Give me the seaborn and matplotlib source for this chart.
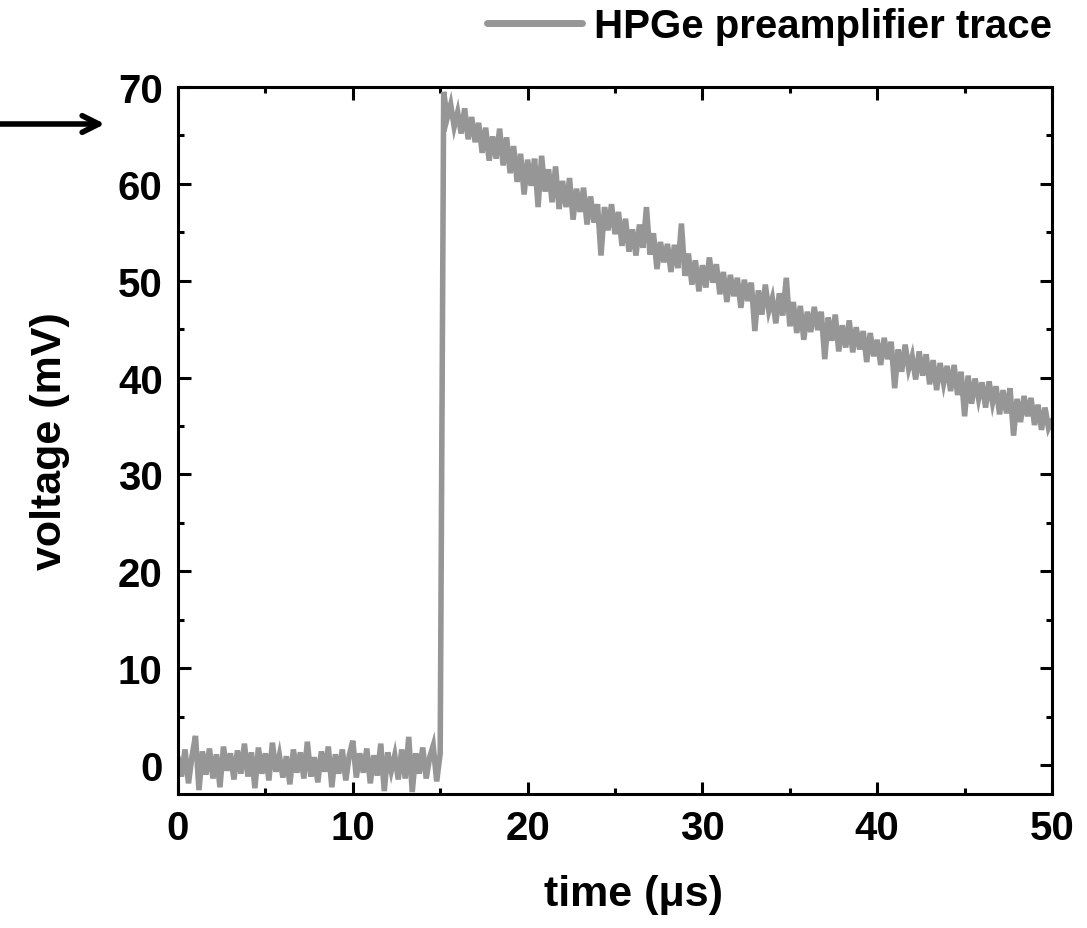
import numpy as np
import pandas as pd
import matplotlib
matplotlib.use("Agg")
import matplotlib.pyplot as plt
import seaborn as sns
from matplotlib.ticker import MultipleLocator

# ---- data ----
sample_step_us = 0.2  # trace sampled every 0.2 us starting at 0

baseline_mV = [
    0.8, -1.2, 1.6, -1.9, 0.9, 3.0, -2.6, 1.4, -1.0, 1.7,
    -1.4, 1.1, -2.3, 1.9, -0.6, 1.2, -1.5, 1.5, -0.9, 2.2,
    -1.2, 1.3, -2.4, 1.8, -0.9, 1.2, -1.6, 2.3, -0.7, 1.0,
    -1.3, 0.9, -2.0, 1.6, -0.8, 1.3, -1.4, 2.4, -1.2, 0.8,
    -1.8, 1.4, -0.7, 1.9, -2.3, 1.1, -0.9, 1.6, -1.6, 1.0,
    2.5, -1.3, 1.2, -0.8, 1.7, -1.9, 1.0, -1.1, 2.2, -2.7,
    1.3, -0.6, 1.0, -1.5, 1.6, -1.4, 2.9, -2.8, 1.2, -0.9,
    1.8, -1.4, 0.8, 2.0, -1.7, 1.2,
]

decay_mV = [
    69.5, 66.8, 68.2, 65.9, 67.4,
    65.2, 67.8, 64.6, 66.9, 64.3,
    66.3, 63.2, 65.8, 62.4, 64.9,
    62.6, 65.7, 61.9, 64.8, 61.1,
    63.9, 60.2, 63.1, 58.9, 62.5,
    59.8, 62.6, 57.6, 62.9, 59.2,
    61.5, 58.1, 61.8, 57.4, 60.3,
    57.6, 60.6, 56.3, 59.5, 57.1,
    59.6, 55.8, 58.7, 56.0, 57.9,
    52.6, 57.6, 55.2, 57.9, 54.8,
    57.1, 53.6, 56.4, 53.0, 55.3,
    52.6, 55.8, 53.4, 57.6, 52.7,
    54.9, 51.2, 54.0, 51.9, 53.8,
    50.9, 53.7, 51.3, 55.9, 50.5,
    52.8, 49.6, 52.1, 48.9, 51.6,
    49.3, 52.4, 49.8, 51.7, 48.6,
    50.9, 47.8, 50.6, 48.4, 50.3,
    47.2, 50.1, 47.9, 49.8, 44.8,
    49.0, 46.5, 49.6, 46.9, 48.2,
    45.6, 48.7, 46.4, 50.3, 45.3,
    47.8, 44.6, 47.4, 43.9, 46.8,
    44.7, 47.3, 44.9, 46.8, 41.9,
    46.2, 43.8, 46.5, 42.7, 45.4,
    43.1, 45.9, 42.6, 45.2, 42.9,
    44.8, 41.6, 44.6, 42.2, 43.9,
    41.3, 44.1, 41.9, 43.7, 38.9,
    42.9, 40.6, 43.4, 40.9, 42.2,
    39.8, 42.7, 40.2, 42.4, 39.3,
    41.8, 38.7, 41.5, 39.4, 41.2,
    38.6, 41.3, 38.2, 40.6, 36.0,
    40.2, 37.3, 39.9, 37.8, 39.5,
    36.9, 39.6, 37.4, 39.1, 36.2,
    38.7, 36.3, 38.9, 34.0, 37.8,
    35.4, 38.1, 36.0, 37.9, 35.1,
    37.2, 34.6, 36.9, 34.8, 35.6,
]

series_label = "HPGe preamplifier trace"
x_label = "time (\u03bcs)"
y_label = "voltage (mV)"
x_ticks = [0, 10, 20, 30, 40, 50]
y_ticks = [0, 10, 20, 30, 40, 50, 60, 70]

voltage_mV = baseline_mV + decay_mV
time_us = np.round(np.arange(len(voltage_mV)) * sample_step_us, 1)
df = pd.DataFrame({"time": time_us, "voltage": voltage_mV})

# ---- styling ----
sns.set_theme(style="ticks")
plt.rcParams["font.family"] = ["Liberation Sans", "DejaVu Sans"]
plt.rcParams["font.weight"] = "bold"
for k in ["text.color", "axes.labelcolor", "xtick.color", "ytick.color", "axes.edgecolor"]:
    plt.rcParams[k] = "black"

fig = plt.figure(figsize=(10.87, 9.29), dpi=100)
ax = fig.add_axes([178 / 1087, 1 - 795 / 929, (1052 - 178) / 1087, (795 - 88) / 929])

sns.lineplot(data=df, x="time", y="voltage", ax=ax, color="#969696",
             linewidth=4, estimator=None, sort=False, label=series_label)
for ln in ax.get_lines():
    ln.set_solid_joinstyle("miter")

ax.set_xlim(0, 50)
ax.set_ylim(-3, 70)
ax.set_xticks(x_ticks)
ax.set_yticks(y_ticks)
ax.xaxis.set_minor_locator(MultipleLocator(5))
ax.yaxis.set_minor_locator(MultipleLocator(5))
ax.tick_params(which="both", direction="in", top=True, right=True, width=2.2, color="black")
ax.tick_params(which="major", length=9, labelsize=29, pad=11)
ax.tick_params(which="minor", length=4.5)
for lab in ax.get_xticklabels() + ax.get_yticklabels():
    lab.set_fontweight("bold")
for sp in ax.spines.values():
    sp.set_linewidth(2.2)
    sp.set_color("black")

ax.set_xlabel(x_label, fontsize=31, fontweight="bold")
ax.set_ylabel(y_label, fontsize=31, fontweight="bold")
ax.xaxis.set_label_coords((633 - 178) / 874, -(875 - 795) / 707)
ax.yaxis.set_label_coords(-(178 - 70) / 874, 0.5)

leg = ax.legend(loc="center right", bbox_to_anchor=(1.0, 1 + (88 - 27) / 707), frameon=False,
                fontsize=29, handlelength=2.36, handletextpad=0.3,
                borderaxespad=0, borderpad=0)
for t in leg.get_texts():
    t.set_fontweight("bold")
for h in leg.get_lines():
    h.set_linewidth(5)

ax.annotate("", xy=(105 / 1087, 1 - 125 / 929), xytext=(0.0, 1 - 125 / 929),
            xycoords="figure fraction", textcoords="figure fraction",
            arrowprops=dict(arrowstyle="->", lw=4, color="black", mutation_scale=30,
                            shrinkA=0, shrinkB=0))

fig.savefig("out.png", dpi=100)
